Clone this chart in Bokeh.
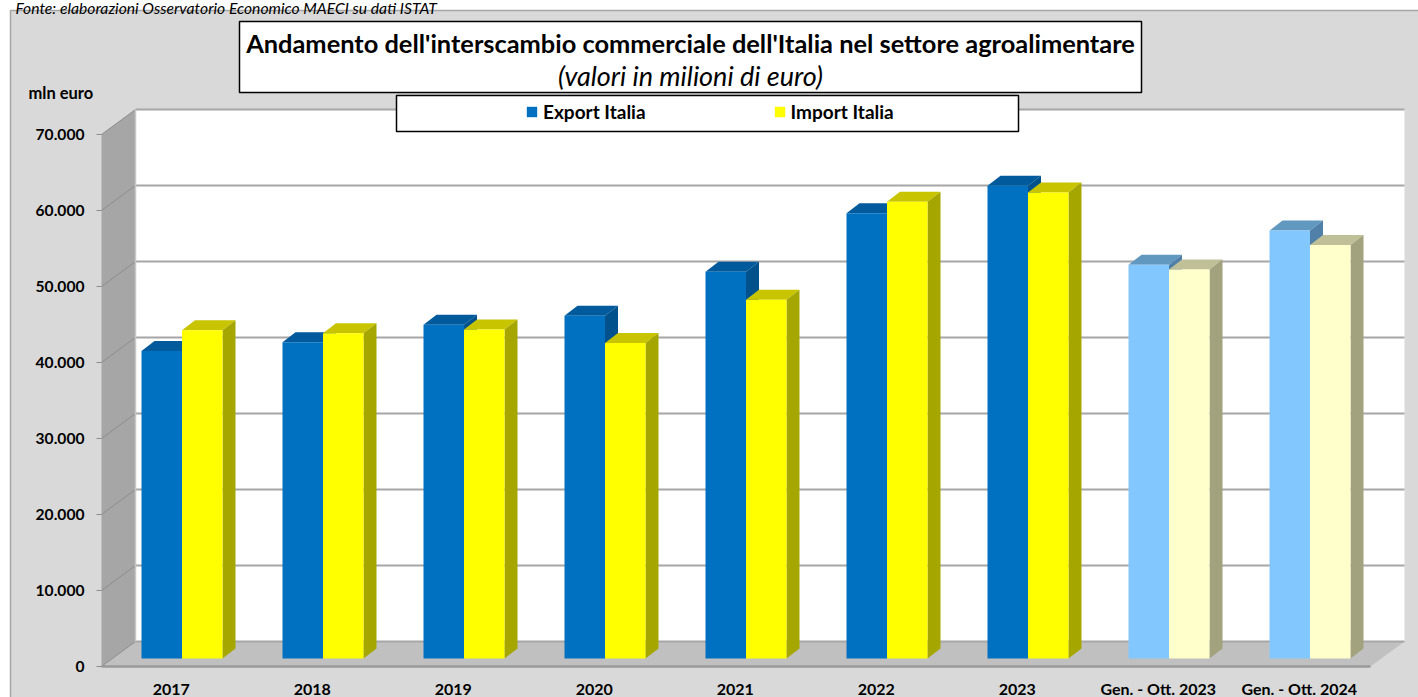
from bokeh.plotting import figure
from bokeh.embed import file_html
from bokeh.resources import INLINE
from bokeh.models import Label, BoxAnnotation, Legend, LegendItem, FixedTicker, Range1d

categories = ["2017", "2018", "2019", "2020", "2021", "2022", "2023", "Gen. - Ott. 2023", "Gen. - Ott. 2024"]
export_italia = [40450, 41600, 43900, 45100, 50900, 58600, 62200, 51800, 56300]
import_italia = [43200, 42800, 43300, 41500, 47200, 60100, 61300, 51200, 54400]
y_ticks = [0, 10000, 20000, 30000, 40000, 50000, 60000, 70000]
y_labels = ["0", "10.000", "20.000", "30.000", "40.000", "50.000", "60.000", "70.000"]

W, H = 1418, 697
X0, Y0, SX, SY = 101, 666, 141.0, 76.0 / 10000
FONT = "Lato"

def X(px):
    return (px - X0) / SX

def Y(py):
    return (Y0 - py) / SY

p = figure(width=W, height=H, output_backend="svg", toolbar_location=None,
           x_range=Range1d(X(0), X(W)), y_range=Range1d(Y(H), Y(0)),
           min_border_left=0, min_border_right=0, min_border_top=0, min_border_bottom=0,
           border_fill_color="white", background_fill_color="white",
           outline_line_color=None)
p.grid.visible = False

p.add_layout(BoxAnnotation(left=X(10), right=X(1500), top=Y(10), bottom=Y(760), level="underlay",
                           fill_color="#D9D9D9", fill_alpha=1, line_color="#A6A6A6", line_alpha=1, line_width=1.5))

# 3D shell
dx, dy = 34 / SX, 25 / SY
n = len(categories)
p.patch([0, dx, dx, 0], [0, dy, 70000 + dy, 70000], fill_color="#A6A6A6", line_color=None)
p.quad(left=[dx], right=[n + dx], bottom=[dy], top=[70000 + dy], fill_color="white", line_color=None)
p.patch([0, n, n + dx, dx], [0, 0, dy, dy], fill_color="#C0C0C0", line_color=None)
p.segment(x0=[dx] * len(y_ticks), y0=[t + dy for t in y_ticks], x1=[n + dx] * len(y_ticks),
          y1=[t + dy for t in y_ticks], line_color="#A6A6A6", line_width=2)
p.segment(x0=[0] * len(y_ticks), y0=y_ticks, x1=[dx] * len(y_ticks), y1=[t + dy for t in y_ticks],
          line_color="#8C8C8C", line_width=1)
p.segment(x0=[dx], y0=[dy], x1=[dx], y1=[70000 + dy], line_color="#C8C8C8", line_width=1.5)

# bars
bar_off, bar_w = 40 / SX, 40.5 / SX
bdx, bdy = 13 / SX, 10 / SY
base = 8 / SY
palettes = [
    (["#0070C0"] * 7 + ["#83C7FF"] * 2, ["#005A9C"] * 7 + ["#6098C0"] * 2, ["#00518C"] * 7 + ["#5080A8"] * 2),
    (["#FFFF00"] * 7 + ["#FFFFCC"] * 2, ["#C8C400"] * 7 + ["#C0C098"] * 2, ["#A6A600"] * 7 + ["#A2A27E"] * 2),
]
fronts = []
for k, vals in enumerate([export_italia, import_italia]):
    front, top, side = palettes[k]
    lefts = [i + bar_off + k * bar_w for i in range(n)]
    tops = [v + base for v in vals]
    p.patches([[l, l + bar_w, l + bar_w + bdx, l + bdx] for l in lefts],
              [[t, t, t + bdy, t + bdy] for t in tops], fill_color=top, line_color=None)
    p.patches([[l + bar_w, l + bar_w + bdx, l + bar_w + bdx, l + bar_w] for l in lefts],
              [[base, base + bdy, t + bdy, t] for t in tops], fill_color=side, line_color=None)
    fronts.append(p.vbar(x=[l + bar_w / 2 for l in lefts], width=bar_w, bottom=base, top=tops,
                         fill_color=front, line_color=None))

# axes
ax = p.yaxis[0]
ax.fixed_location = 0
ax.ticker = FixedTicker(ticks=y_ticks)
ax.major_label_overrides = dict(zip(y_ticks, y_labels))
ax.major_label_text_font = FONT
ax.major_label_text_font_style = "bold"
ax.major_label_text_font_size = "15.6px"
ax.major_label_text_color = "black"
ax.major_label_standoff = 12
ax.major_tick_out = 5
ax.major_tick_in = 0
ax.minor_tick_out = 0
ax.minor_tick_in = 0
ax.major_tick_line_color = "#8C8C8C"
ax.axis_line_color = None

bx = p.xaxis[0]
bx.fixed_location = 0
bx.ticker = FixedTicker(ticks=[i + 0.495 for i in range(n)])
bx.major_label_overrides = {i + 0.495: c for i, c in enumerate(categories)}
bx.major_label_text_font = FONT
bx.major_label_text_font_style = "bold"
bx.major_label_text_font_size = "16px"
bx.major_label_text_color = "black"
bx.major_label_standoff = 12
bx.major_tick_out = 0
bx.major_tick_in = 0
bx.minor_tick_out = 0
bx.minor_tick_in = 0
bx.axis_line_color = "#999999"
bx.axis_line_width = 2.5
bx.bounds = (0, n)

# boxes and texts
p.add_layout(BoxAnnotation(left=X(239), right=X(1141), top=Y(21), bottom=Y(92), fill_color="white", fill_alpha=1,
                           line_color="black", line_alpha=1, line_width=1.5))
p.add_layout(BoxAnnotation(left=X(396), right=X(1018), top=Y(95), bottom=Y(131), fill_color="white", fill_alpha=1,
                           line_color="black", line_alpha=1, line_width=1.5))

def label(px, py, text, size, style="normal", align="left", baseline="middle"):
    p.add_layout(Label(x=X(px), y=Y(py), text=text, text_font=FONT, text_font_size=size, text_font_style=style,
                       text_align=align, text_baseline=baseline, text_color="black"))

label(690, 42, "Andamento dell'interscambio commerciale dell'Italia nel settore agroalimentare", "25.4px", "bold", "center")
label(690, 75, "(valori in milioni di euro)", "27px", "italic", "center")
label(28, 92, "mln euro", "16.5px", "bold")
label(15, 7, "Fonte: elaborazioni Osservatorio Economico MAECI su dati ISTAT", "15.7px", "italic", "left", "alphabetic")

legend = Legend(items=[LegendItem(label="Export Italia", renderers=[fronts[0]], index=0),
                       LegendItem(label="Import Italia", renderers=[fronts[1]], index=0)],
                orientation="horizontal", location=(525, H - 123), padding=0, margin=0, spacing=127,
                glyph_width=13, glyph_height=13, label_standoff=5, border_line_color=None,
                background_fill_alpha=0, label_text_font=FONT, label_text_font_style="bold",
                label_text_font_size="19px", label_text_color="black")
p.add_layout(legend)

open("out.html", "w").write(file_html(p, INLINE))
